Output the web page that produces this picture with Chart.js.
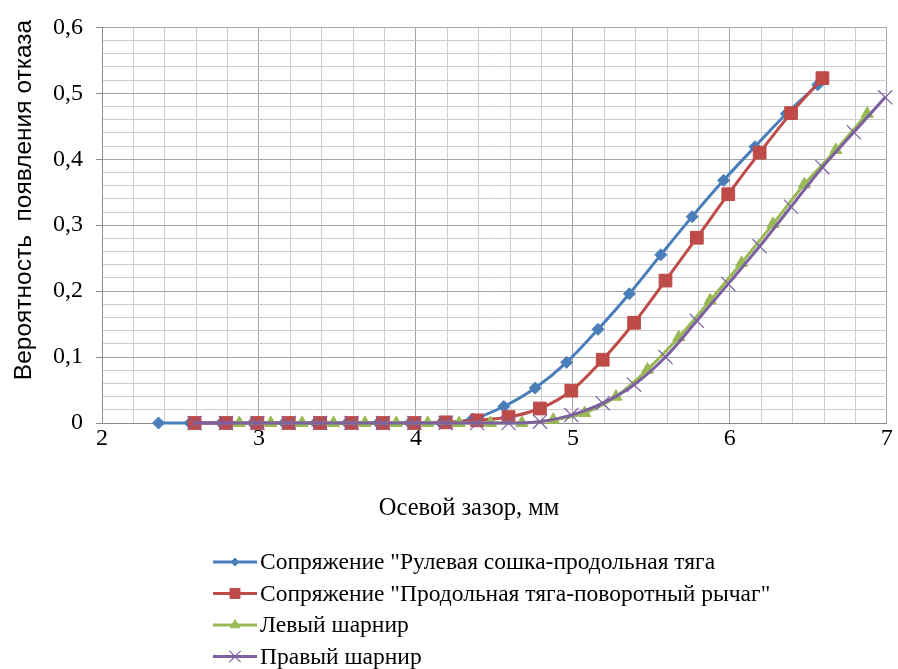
<!DOCTYPE html>
<html>
<head>
<meta charset="utf-8">
<script src="https://cdn.jsdelivr.net/npm/chart.js@4.4.0/dist/chart.umd.min.js"></script>
<style>
  html, body { margin: 0; padding: 0; background: #fff; }
  #wrap { width: 898px; height: 669px; position: relative; }
</style>
</head>
<body>
<div id="wrap"><canvas id="failChart"></canvas></div>
<script>
(function () {
  'use strict';

  var seriesNames = [
    'Сопряжение "Рулевая сошка-продольная тяга',
    'Сопряжение "Продольная тяга-поворотный рычаг"',
    'Левый шарнир',
    'Правый шарнир'
  ];
  var xTitle = 'Осевой зазор, мм';
  var yTitle = 'Вероятность  появления отказа';

  // values
  var blueX = [2.36, 2.56, 2.76, 2.96, 3.16, 3.36, 3.56, 3.76, 3.96, 4.16, 4.36, 4.56, 4.76, 4.96, 5.16, 5.36, 5.56, 5.76, 5.96, 6.16, 6.36, 6.56];
  var blueY = [0, 0, 0, 0, 0, 0, 0, 0, 0, 0, 0.006, 0.025, 0.053, 0.092, 0.142, 0.196, 0.255, 0.313, 0.368, 0.419, 0.469, 0.513];
  var redX = [2.59, 2.79, 2.99, 3.19, 3.39, 3.59, 3.79, 3.99, 4.19, 4.39, 4.59, 4.79, 4.99, 5.19, 5.39, 5.59, 5.79, 5.99, 6.19, 6.39, 6.59];
  var redY = [0, 0, 0, 0, 0, 0, 0, 0, 0.001, 0.004, 0.009, 0.022, 0.049, 0.096, 0.152, 0.216, 0.281, 0.347, 0.41, 0.47, 0.523];
  var greenX = [2.875, 3.075, 3.275, 3.475, 3.675, 3.875, 4.075, 4.275, 4.475, 4.675, 4.875, 5.075, 5.275, 5.475, 5.675, 5.875, 6.075, 6.275, 6.475, 6.675, 6.875];
  var greenY = [0, 0, 0, 0, 0, 0, 0, 0, 0, 0, 0.005, 0.015, 0.04, 0.081, 0.13, 0.186, 0.243, 0.302, 0.362, 0.414, 0.469];
  var purpleX = [2.59, 2.79, 2.99, 3.19, 3.39, 3.59, 3.79, 3.99, 4.19, 4.39, 4.59, 4.79, 4.99, 5.19, 5.39, 5.59, 5.79, 5.99, 6.19, 6.39, 6.59, 6.79, 6.99];
  var purpleY = [0, 0, 0, 0, 0, 0, 0, 0, 0, 0, 0, 0.002, 0.012, 0.03, 0.058, 0.1, 0.155, 0.211, 0.268, 0.328, 0.388, 0.441, 0.494];

  var serif = "'Liberation Serif', 'Times New Roman', serif";
  var sans = "'Liberation Sans', Arial, sans-serif";

  function toPoints(xs, ys) {
    return xs.map(function (x, i) {
      return { x: x, y: ys[i] };
    });
  }

  function isWhole(v, mult) {
    return Math.abs(v * mult - Math.round(v * mult)) < 1e-6;
  }

  var styles = [
    { color: '#4a7ebb', point: 'rectRot', radius: 6, pointBorder: 1, legendRadius: 4 },
    { color: '#be4b48', point: 'rect', radius: 9, pointBorder: 1, legendRadius: 7 },
    { color: '#98b954', point: 'triangle', radius: 7, pointBorder: 1, legendRadius: 5.5 },
    { color: '#7d60a0', point: 'crossRot', radius: 10, pointBorder: 1.2, legendRadius: 8 }
  ];
  var pointSets = [
    toPoints(blueX, blueY),
    toPoints(redX, redY),
    toPoints(greenX, greenY),
    toPoints(purpleX, purpleY)
  ];

  var datasets = pointSets.map(function (pts, i) {
    var s = styles[i];
    return {
      label: seriesNames[i],
      data: pts,
      borderColor: s.color,
      backgroundColor: s.color,
      borderWidth: 3,
      pointStyle: s.point,
      pointRadius: s.radius,
      pointBorderWidth: s.pointBorder,
      pointBackgroundColor: s.color,
      pointBorderColor: s.color,
      cubicInterpolationMode: 'monotone',
      clip: false,
      order: 3 - i // later series on top, like the original
    };
  });

  // axis titles + stacked legend drawn under the plot
  var extrasPlugin = {
    id: 'extras',
    afterDraw: function (chart) {
      var ctx = chart.ctx;
      ctx.save();
      ctx.fillStyle = '#000';
      ctx.textBaseline = 'middle';

      ctx.font = '24.5px ' + serif;
      ctx.textAlign = 'center';
      ctx.fillText(xTitle, 469, 509);

      ctx.save();
      ctx.translate(24, 200);
      ctx.rotate(-Math.PI / 2);
      ctx.font = '24.5px ' + sans;
      ctx.fillText(yTitle, 0, 0);
      ctx.restore();

      ctx.textAlign = 'left';
      ctx.font = '23.5px ' + serif;
      var top = 562;
      var step = 31.5;
      datasets.forEach(function (ds, i) {
        var y = top + i * step;
        var s = styles[i];
        ctx.strokeStyle = s.color;
        ctx.fillStyle = s.color;
        ctx.lineWidth = 3;
        ctx.beginPath();
        ctx.moveTo(213, y);
        ctx.lineTo(257, y);
        ctx.stroke();
        ctx.lineWidth = s.pointBorder;
        Chart.helpers.drawPoint(ctx, {
          pointStyle: s.point,
          radius: s.legendRadius,
          borderWidth: s.pointBorder,
          rotation: 0
        }, 235, y);
        ctx.fillStyle = '#000';
        ctx.fillText(ds.label, 260, y + 1);
      });
      ctx.restore();
    }
  };

  var ctx = document.getElementById('failChart').getContext('2d');
  new Chart(ctx, {
    type: 'line',
    data: { datasets: datasets },
    options: {
      responsive: true,
      maintainAspectRatio: false,
      animation: false,
      layout: {
        padding: { top: 23, right: 7, left: 0, bottom: 146 }
      },
      plugins: {
        legend: { display: false },
        tooltip: { enabled: false }
      },
      scales: {
        x: {
          type: 'linear',
          min: 2,
          max: 7,
          afterFit: function (scale) {
            scale.height = 100;
          },
          border: { color: '#8c8c8c', width: 1 },
          grid: {
            drawTicks: false,
            color: function (c) {
              return isWhole(c.tick.value, 1) ? '#a6a6a6' : '#cdcdcd';
            }
          },
          ticks: {
            stepSize: 0.2,
            autoSkip: false,
            maxRotation: 0,
            padding: 1,
            color: '#000',
            font: { family: serif, size: 24 },
            callback: function (v) {
              return isWhole(v, 1) ? String(Math.round(v)) : '';
            }
          }
        },
        y: {
          min: 0,
          max: 0.6,
          afterFit: function (scale) {
            scale.width = 102;
          },
          border: { color: '#8c8c8c', width: 1 },
          grid: {
            tickLength: 6,
            color: function (c) {
              return isWhole(c.tick.value, 10) ? '#a6a6a6' : '#cdcdcd';
            },
            tickColor: function (c) {
              return isWhole(c.tick.value, 10) ? '#8c8c8c' : 'rgba(0,0,0,0)';
            }
          },
          ticks: {
            stepSize: 0.02,
            autoSkip: false,
            padding: 13,
            color: '#000',
            font: { family: serif, size: 24 },
            callback: function (v) {
              if (!isWhole(v, 10)) {
                return '';
              }
              return v === 0 ? '0' : v.toFixed(1).replace('.', ',');
            }
          }
        }
      }
    },
    plugins: [extrasPlugin]
  });
}());
</script>
</body>
</html>
